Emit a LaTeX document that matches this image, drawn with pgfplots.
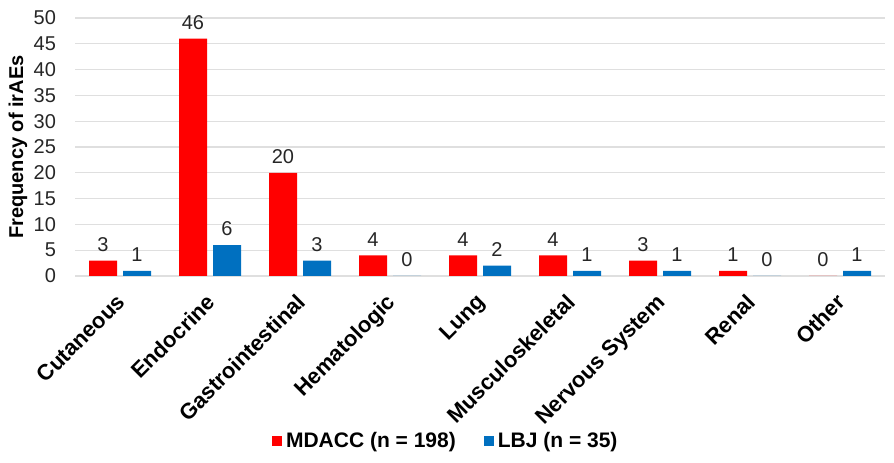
\documentclass[border=0pt]{standalone}
\usepackage{pgfplots}
\pgfplotsset{compat=1.18}
\usepackage{fontspec}
\setmainfont{Liberation Sans}
\definecolor{mred}{HTML}{FF0000}
\definecolor{mblue}{HTML}{0070C0}
\definecolor{txt}{HTML}{262626}
\begin{document}
\begin{tikzpicture}
\begin{axis}[
 scale only axis, width=405pt, height=129pt,
 ybar=3pt, bar width=14pt,
 xmin=-0.5, xmax=8.5, ymin=0, ymax=50,
 ytick={0,5,...,50},
 xtick=data,
 xticklabels={Cutaneous,Endocrine,Gastrointestinal,Hematologic,Lung,Musculoskeletal,Nervous System,Renal,Other},
 xticklabel style={rotate=45, anchor=north east, xshift=-4pt, yshift=-0.7pt, font=\fontsize{11}{13}\selectfont\bfseries},
 yticklabel style={font=\fontsize{10}{12}\selectfont, text=txt, xshift=-6pt},
 /pgf/number format/assume math mode=true,
 axis line style={draw=none},
 major tick length=0pt,
 ymajorgrids, grid style={gray!25, line width=0.6pt},
 ylabel={Frequency of irAEs},
 ylabel style={font=\fontsize{10}{12}\selectfont\bfseries, at={(axis description cs:-0.0704,0.5)}, anchor=center},
 nodes near coords,
 every node near coord/.append style={font=\fontsize{10}{12}\selectfont, text=txt, yshift=1pt},
 legend style={at={(axis description cs:0.459,-0.64)}, anchor=center, draw=none, legend columns=2, font=\fontsize{10.5}{12}\selectfont\bfseries, /tikz/every even column/.append style={column sep=12pt}},
 legend image code/.code={\fill[#1] (0pt,-2.5pt) rectangle (5pt,2.5pt);},
]
\addplot[fill=mred, draw=none] coordinates {(0,3) (1,46) (2,20) (3,4) (4,4) (5,4) (6,3) (7,1) (8,0)};
\addplot[fill=mblue, draw=none] coordinates {(0,1) (1,6) (2,3) (3,0) (4,2) (5,1) (6,1) (7,0) (8,1)};
\legend{MDACC (n = 198), LBJ (n = 35)}
\end{axis}
\pgfresetboundingbox
\path[use as bounding box] ([xshift=-37.5pt,yshift=-93.5pt]current axis.south west) rectangle ([xshift=4.5pt,yshift=9pt]current axis.north east);
\end{tikzpicture}
\end{document}
